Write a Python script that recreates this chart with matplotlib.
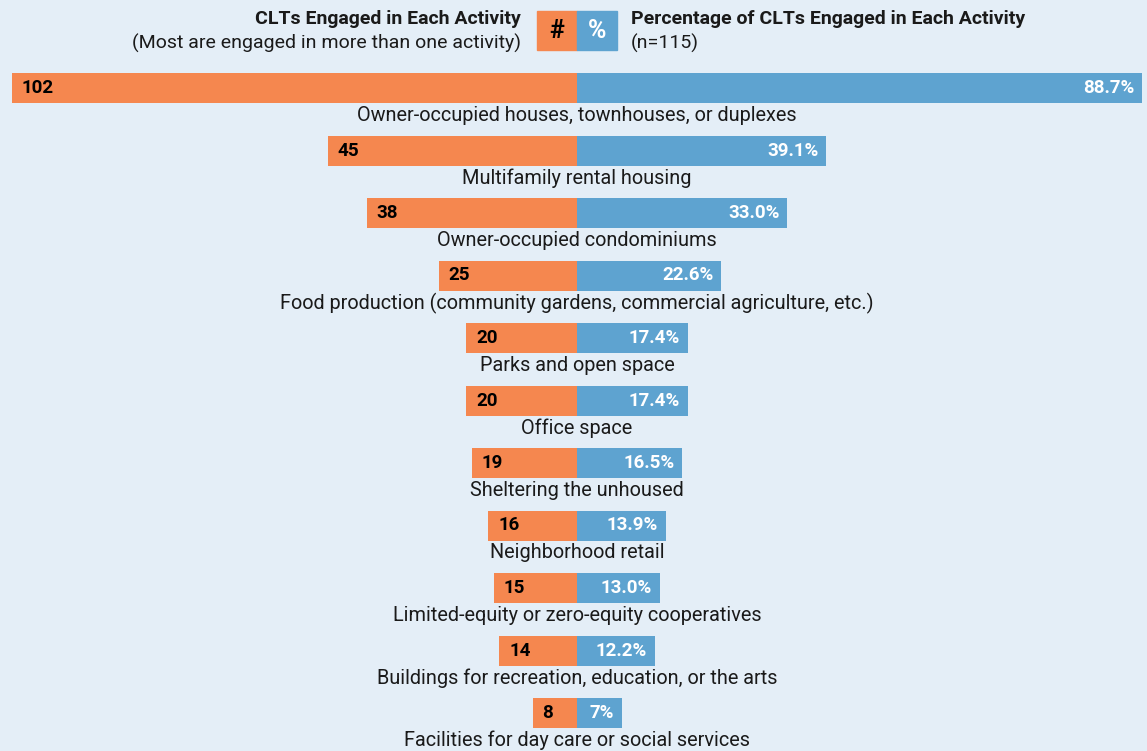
import matplotlib
matplotlib.use("Agg")
import matplotlib.pyplot as plt
from matplotlib.patches import Rectangle

activities = [
    "Owner-occupied houses, townhouses, or duplexes",
    "Multifamily rental housing",
    "Owner-occupied condominiums",
    "Food production (community gardens, commercial agriculture, etc.)",
    "Parks and open space",
    "Office space",
    "Sheltering the unhoused",
    "Neighborhood retail",
    "Limited-equity or zero-equity cooperatives",
    "Buildings for recreation, education, or the arts",
    "Facilities for day care or social services",
]
counts = [102, 45, 38, 25, 20, 20, 19, 16, 15, 14, 8]
percents = [88.7, 39.1, 33.0, 22.6, 17.4, 17.4, 16.5, 13.9, 13.0, 12.2, 7]
pct_labels = ["88.7%", "39.1%", "33.0%", "22.6%", "17.4%", "17.4%",
              "16.5%", "13.9%", "13.0%", "12.2%", "7%"]

ORANGE = "#F5874F"
BLUE = "#5EA3D0"
BG = "#E4EEF7"
TXT = "#1a1a1a"

plt.rcParams['font.family'] = ['Roboto', 'DejaVu Sans']

W, H = 1147, 751
fig = plt.figure(figsize=(W / 100, H / 100), dpi=100, facecolor=BG)

# vertical placement: row i centred at 88 + 62.5*i px from the top
top_px, bot_px = 56.75, 744.25
ax_b = 1 - bot_px / H
ax_h = (bot_px - top_px) / H
axl = fig.add_axes([12 / W, ax_b, 565 / W, ax_h])
axr = fig.add_axes([577 / W, ax_b, 565 / W, ax_h])

rows = list(range(len(activities)))
axl.barh(rows, counts, height=0.48, color=ORANGE)
axr.barh(rows, percents, height=0.48, color=BLUE)
axl.set_xlim(max(counts), 0)
axr.set_xlim(0, max(percents))
for ax in (axl, axr):
    ax.set_ylim(len(activities) - 0.5, -0.5)
    ax.axis("off")
    ax.patch.set_alpha(0)

for i, (c, p, pl, name) in enumerate(zip(counts, percents, pct_labels, activities)):
    axl.annotate(str(c), (c, i), xytext=(7, 0), textcoords="offset points",
                 ha="left", va="center", fontsize=13.5, fontweight="bold", color="black")
    axr.annotate(pl, (p, i), xytext=(-5.5, 0), textcoords="offset points",
                 ha="right", va="center", fontsize=13.5, fontweight="bold", color="white")
    axr.text(0, i + 0.44, name, ha="center", va="center", fontsize=14.3, color=TXT,
             clip_on=False)

# header
fig.text(521 / W, 1 - 19 / H, "CLTs Engaged in Each Activity", ha="right", va="center",
         fontsize=14, fontweight="bold", color=TXT)
fig.text(521 / W, 1 - 43 / H, "(Most are engaged in more than one activity)", ha="right",
         va="center", fontsize=14, color=TXT)
fig.text(631 / W, 1 - 19 / H, "Percentage of CLTs Engaged in Each Activity", ha="left",
         va="center", fontsize=14, fontweight="bold", color=TXT)
fig.text(631 / W, 1 - 43 / H, "(n=115)", ha="left", va="center", fontsize=14, color=TXT)

fig.patches.append(Rectangle((537 / W, 1 - 50 / H), 40 / W, 39 / H, color=ORANGE,
                             transform=fig.transFigure, figure=fig))
fig.patches.append(Rectangle((577 / W, 1 - 50 / H), 40 / W, 39 / H, color=BLUE,
                             transform=fig.transFigure, figure=fig))
fig.text(557 / W, 1 - 31 / H, "#", ha="center", va="center", fontsize=18,
         fontweight="bold", color="black")
fig.text(597 / W, 1 - 31 / H, "%", ha="center", va="center", fontsize=18,
         fontweight="bold", color="white")

fig.savefig("out.png", dpi=100, facecolor=BG)
